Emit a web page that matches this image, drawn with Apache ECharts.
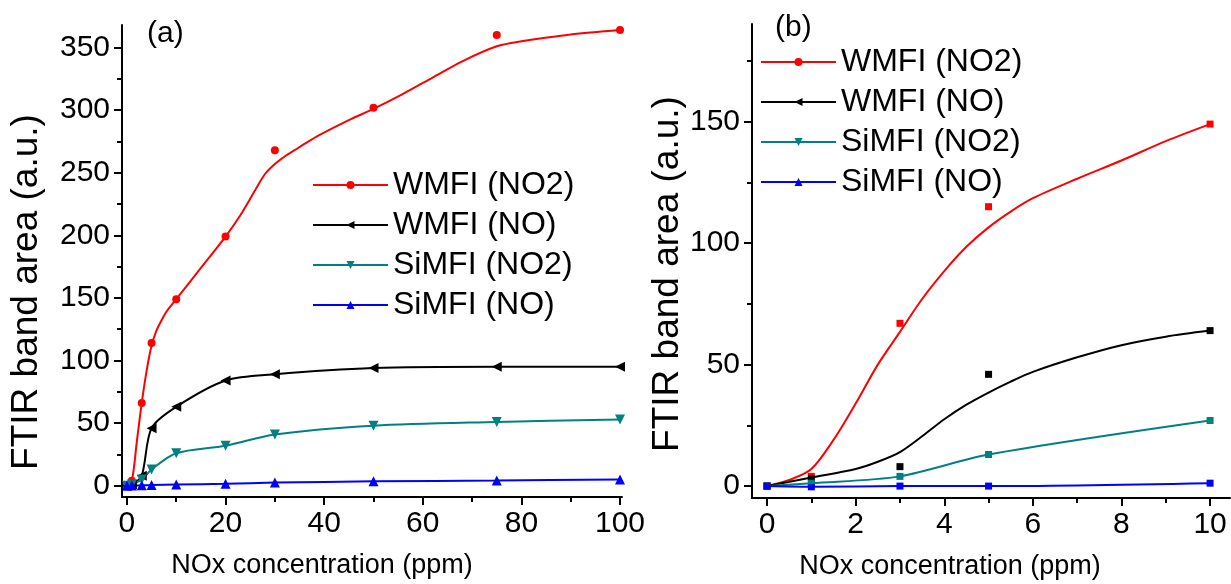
<!DOCTYPE html>
<html>
<head>
<meta charset="utf-8">
<title>FTIR band area vs NOx</title>
<script src="https://cdn.jsdelivr.net/npm/echarts@6.0.0/dist/echarts.min.js"></script>
<style>
html, body { margin: 0; padding: 0; background: #fff; }
#main { width: 1231px; height: 584px; }
</style>
</head>
<body>
<div id="main"></div>
<script>
// ---------- panel (a) : 0-100 ppm ----------
var xA = [0, 1, 3, 5, 10, 20, 30, 50, 75, 100];
var wmfiNO2A = [0, 4, 66, 114, 149, 199, 268, 302, 360, 364];
var wmfiNOA = [0, 1, 8, 46, 63, 84, 89, 94, 95, 95];
var simfiNO2A = [0, 1, 5, 13, 26, 32, 41, 48, 51, 53];
var simfiNOA = [0, 0.2, 0.3, 0.5, 1, 1.5, 2.5, 3.5, 4.2, 5];
// fitted curve of WMFI (NO2)
var fitXA = [0, 1, 2, 3, 4, 5, 6, 7, 8, 10, 15, 20, 23, 26, 28, 30, 32, 34, 36, 39, 45, 50, 56, 62, 68, 75, 80, 90, 100];
var fitNO2A = [0, 4, 35, 66, 92, 112, 124, 132, 139, 149, 174, 199, 216, 236, 249, 257, 263, 268, 273, 280, 292, 301, 313, 326, 339, 351, 355, 360.5, 364];

var xLabelsA = [0, 20, 40, 60, 80, 100];
var xMinorA = [10, 30, 50, 70, 90];
var yLabelsA = [0, 50, 100, 150, 200, 250, 300, 350];
var yMinorA = [25, 75, 125, 175, 225, 275, 325];

// ---------- panel (b) : 0-10 ppm ----------
var xB = [0, 1, 3, 5, 10];
var wmfiNO2B = [0, 4, 67, 115, 149];
var wmfiNOB = [0, 3, 8, 46, 64];
var simfiNO2B = [0, 1.2, 4, 13, 27];
var simfiNOB = [0, -0.3, 0, 0, 1.2];
// fitted curves
var fitXB = [0, 0.5, 1, 1.5, 2, 2.5, 3, 3.5, 4, 4.5, 5, 5.5, 6, 7, 8, 9, 10];
var fitNO2B = [0, 2.5, 7, 19, 34, 50, 63.5, 77, 88.5, 98.5, 106.5, 113, 118.5, 126.5, 134, 142, 149];
var fitXB2 = [0, 1, 2, 2.5, 3, 3.5, 4, 4.5, 5, 5.5, 6, 7, 8, 9, 10];
var fitNOB = [0, 3.5, 7, 10, 14, 20.5, 27.5, 33.5, 38.5, 43, 47, 53, 58, 61.5, 64];

var xLabelsB = [0, 2, 4, 6, 8, 10];
var xMinorB = [1, 3, 5, 7, 9];
var yLabelsB = [0, 50, 100, 150];
var yMinorB = [25, 75, 125, 175];

var names = ['WMFI (NO2)', 'WMFI (NO)', 'SiMFI (NO2)', 'SiMFI (NO)'];
var colors = ['#ff0000', '#000000', '#008080', '#0000ff'];

var FONT = 'Liberation Sans, Arial, sans-serif';

function pairs(xs, ys) {
	var out = [];
	for (var i = 0; i < xs.length; i++) out.push([xs[i], ys[i]]);
	return out;
}

function mainAxis(grid, pos, min, max, ticks, name, gap, size, pad) {
	return {
		type: 'value', gridIndex: grid, position: pos, min: min, max: max,
		name: name, nameLocation: 'middle', nameGap: gap,
		nameTextStyle: { color: '#000', fontSize: size, fontFamily: FONT, padding: pad },
		axisLine: { show: true, onZero: false, lineStyle: { color: '#000', width: 2 } },
		axisTick: { show: true, length: 8, customValues: ticks, lineStyle: { color: '#000', width: 2 } },
		axisLabel: { customValues: ticks, color: '#000', fontSize: 30, fontFamily: FONT, margin: 12 },
		splitLine: { show: false }
	};
}

// second axis on the same grid, only for the short in-between ticks
function minorAxis(grid, pos, min, max, ticks) {
	return {
		type: 'value', gridIndex: grid, position: pos, offset: 0, min: min, max: max,
		axisLine: { show: false, onZero: false },
		axisTick: { show: true, length: 5, customValues: ticks, lineStyle: { color: '#000', width: 2 } },
		axisLabel: { show: false },
		splitLine: { show: false }
	};
}

var chart = echarts.init(document.getElementById('main'));

var legendSym = ['circle', 'triangle', 'triangle', 'triangle'];
var legendRot = [0, 90, 180, 0];

var series = [];

// (a) WMFI (NO2): fitted line + dots
series.push({
	name: names[0], type: 'line', xAxisIndex: 0, yAxisIndex: 0,
	data: pairs(fitXA, fitNO2A), smooth: 0.3, showSymbol: false,
	symbol: 'circle', symbolSize: 8,
	lineStyle: { color: colors[0], width: 2 }, itemStyle: { color: colors[0] }
});
series.push({
	name: 'WMFI (NO2) a', type: 'scatter', xAxisIndex: 0, yAxisIndex: 0,
	data: pairs(xA, wmfiNO2A), symbol: 'circle', symbolSize: 8,
	itemStyle: { color: colors[0], opacity: 1 }
});
// (a) other three: lines through their points
var dataA = [wmfiNOA, simfiNO2A, simfiNOA];
for (var i = 0; i < 3; i++) {
	series.push({
		name: names[i + 1], type: 'line', xAxisIndex: 0, yAxisIndex: 0,
		data: pairs(xA, dataA[i]), smooth: 0.3,
		symbol: 'triangle', symbolRotate: legendRot[i + 1], symbolSize: 10,
		lineStyle: { color: colors[i + 1], width: 2 }, itemStyle: { color: colors[i + 1] }
	});
}

// (b) curves
var curvesB = [pairs(fitXB, fitNO2B), pairs(fitXB2, fitNOB), pairs(xB, simfiNO2B), pairs(xB, simfiNOB)];
var pointsB = [wmfiNO2B, wmfiNOB, simfiNO2B, simfiNOB];
for (var j = 0; j < 4; j++) {
	series.push({
		name: names[j] + ' b', type: 'line', xAxisIndex: 2, yAxisIndex: 2,
		data: curvesB[j], smooth: 0.3, showSymbol: false,
		symbol: legendSym[j], symbolRotate: legendRot[j],
		lineStyle: { color: colors[j], width: 2 }, itemStyle: { color: colors[j] }
	});
}
for (var k = 0; k < 4; k++) {
	series.push({
		name: names[k] + ' pts', type: 'scatter', xAxisIndex: 2, yAxisIndex: 2,
		data: pairs(xB, pointsB[k]), symbol: 'rect', symbolSize: 7,
		itemStyle: { color: colors[k], opacity: 1 }
	});
}

var legendStyle = {
	orient: 'vertical', selectedMode: false,
	itemWidth: 75, itemHeight: 10, itemGap: 8,
	textStyle: { color: '#000', fontSize: 32, fontFamily: FONT, lineHeight: 32 }
};

var option = {
	animation: false,
	backgroundColor: '#fff',
	grid: [
		{ left: 122, top: 25, width: 500, height: 472, outerBoundsMode: 'none' },
		{ left: 752, top: 24, width: 478, height: 474, outerBoundsMode: 'none' }
	],
	xAxis: [
		mainAxis(0, 'bottom', -1, 100.4, xLabelsA, 'NOx concentration (ppm)', 55, 27, [0, 100, 0, 0]),
		minorAxis(0, 'bottom', -1, 100.4, xMinorA),
		mainAxis(1, 'bottom', -0.34, 10.45, xLabelsB, 'NOx concentration (ppm)', 55, 27, [0, 82, 0, 0]),
		minorAxis(1, 'bottom', -0.34, 10.45, xMinorB)
	],
	yAxis: [
		mainAxis(0, 'left', -9, 368, yLabelsA, 'FTIR band area (a.u.)', 77, 37, [0, 62, 0, 0]),
		minorAxis(0, 'left', -9, 368, yMinorA),
		mainAxis(1, 'left', -4.9, 190.2, yLabelsB, 'FTIR band area (a.u.)', 62, 37, [0, 26, 0, 0]),
		minorAxis(1, 'left', -4.9, 190.2, yMinorB)
	],
	legend: [
		Object.assign({ left: 307, top: 164, data: names.slice() }, legendStyle),
		Object.assign({ left: 755, top: 41, data: names.map(function (n) { return n + ' b'; }),
			formatter: function (n) { return n.slice(0, -2); } }, legendStyle)
	],
	graphic: [
		{ type: 'text', left: 147, top: 19, style: { text: '(a)', fill: '#000', font: '30px ' + FONT } },
		{ type: 'text', left: 775, top: 13, style: { text: '(b)', fill: '#000', font: '30px ' + FONT } }
	],
	series: series
};

chart.setOption(option);
</script>
</body>
</html>
